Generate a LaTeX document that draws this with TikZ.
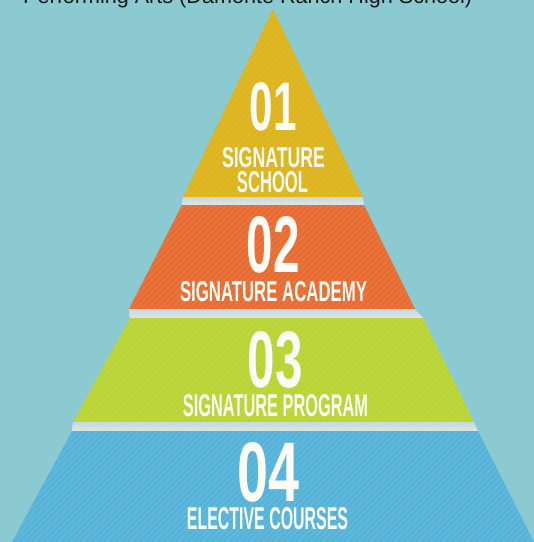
\documentclass[tikz,border=0pt]{standalone}
\usepackage{fontspec}
\setmainfont{Liberation Sans}
\usepackage{graphicx}
\definecolor{bgc}{HTML}{8BCAD1}
\definecolor{yelc}{HTML}{DDB41B}
\definecolor{orgc}{HTML}{E86C31}
\definecolor{grnc}{HTML}{B9D433}
\definecolor{bluc}{HTML}{55B3DA}
\definecolor{bandtop}{HTML}{C3DBDE}
\definecolor{bandbot}{HTML}{DFE4E3}
\definecolor{txtc}{HTML}{FCFCF6}
\newcommand{\fitlabel}[3]{\resizebox{#1pt}{#2pt}{#3}}
\begin{document}
\begin{tikzpicture}[x=1pt,y=-1pt,
  lbl/.style={text=txtc, inner sep=0pt, font=\bfseries},
  bandfill/.style={top color=bandtop, bottom color=bandbot},
  stripe/.style={white, opacity=0.07, line width=2pt}]
\fill[bgc] (0,0) rectangle (534,542);
\useasboundingbox (0,0) rectangle (534,542);
\clip (0,0) rectangle (534,542);
% title (cut off at top)
\node[anchor=base west, inner sep=0pt, text=black!90,
      font=\fontsize{21.6}{24}\selectfont] (title) at (23,3)
  {Performing Arts (Damonte Ranch High School)};
% tiers
\fill[yelc] (273,9) -- (363,197) -- (183,197) -- cycle;
\shade[bandfill] (183,197) -- (363,197) -- (364,205) -- (182,205) -- cycle;
\fill[orgc] (182,205) -- (364,205) -- (415,309) -- (129,309) -- cycle;
\shade[bandfill] (129,309) -- (415,309) -- (423,318) -- (130,318) -- cycle;
\fill[grnc] (130,318) -- (423,318) -- (474,422) -- (73,422) -- cycle;
\shade[bandfill] (73,422) -- (474,422) -- (478,431) -- (72,431) -- cycle;
\fill[bluc] (72,431) -- (478,431) -- (534,542) -- (12,542) -- cycle;
% subtle diagonal texture
\begin{scope}
\clip (273,9) -- (363,197) -- (183,197) -- cycle
      (182,205) -- (364,205) -- (415,309) -- (129,309) -- cycle
      (130,318) -- (423,318) -- (474,422) -- (73,422) -- cycle
      (72,431) -- (478,431) -- (534,542) -- (12,542) -- cycle;
\foreach \i in {-560,-554,...,540} {
  \draw[stripe] (\i,542) -- ({\i+542},0);
}
\end{scope}
% labels
\node[lbl] (n1) at (273.5,107) {\fitlabel{47}{48}{01}};
\node[lbl] (t1a) at (273.5,158) {\fitlabel{103}{20}{SIGNATURE}};
\node[lbl] (t1b) at (272.5,182.5) {\fitlabel{71}{21}{SCHOOL}};
\node[lbl] (n2) at (273.5,245) {\fitlabel{53}{56}{02}};
\node[lbl] (t2) at (273.5,292) {\fitlabel{187}{20}{SIGNATURE ACADEMY}};
\node[lbl] (n3) at (275.5,360) {\fitlabel{55}{56}{03}};
\node[lbl] (t3) at (275.5,406) {\fitlabel{185}{22}{SIGNATURE PROGRAM}};
\node[lbl] (n4) at (269,472.5) {\fitlabel{62}{59}{04}};
\node[lbl] (t4) at (267.5,519) {\fitlabel{161}{22}{ELECTIVE COURSES}};
\end{tikzpicture}
\end{document}
